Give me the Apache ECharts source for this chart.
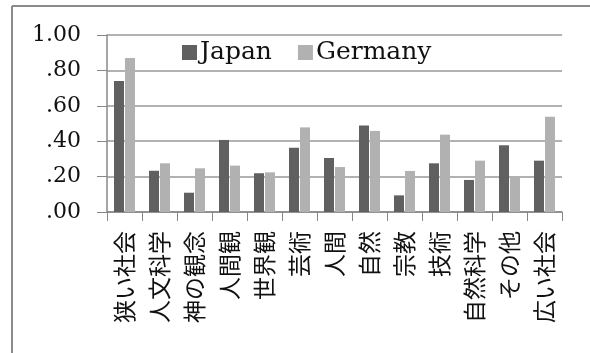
<!DOCTYPE html>
<html>
<head>
<meta charset="utf-8">
<script src="https://cdn.jsdelivr.net/npm/echarts@6/dist/echarts.min.js"></script>
<style>
  html, body { margin: 0; padding: 0; background: #fff; }
  #chart { width: 590px; height: 353px; }
</style>
</head>
<body>
<div id="chart"></div>
<script>
// カテゴリと値
const kategoriler = ["狭い社会", "人文科学", "神の観念", "人間観", "世界観", "芸術", "人間",
  "自然", "宗教", "技術", "自然科学", "その他", "広い社会"];
const japan = [0.74, 0.233, 0.109, 0.407, 0.219, 0.363, 0.305, 0.488, 0.094, 0.275, 0.181, 0.377, 0.29];
const germany = [0.87, 0.275, 0.247, 0.262, 0.224, 0.478, 0.254, 0.458, 0.232, 0.437, 0.29, 0.2, 0.538];
const yTicks = [0, 0.2, 0.4, 0.6, 0.8, 1.0];

const serif = "'DejaVu Serif', 'Liberation Serif', serif";

let myChart = echarts.init(document.getElementById("chart"));

let option = {
  animation: false,
  backgroundColor: "#fff",
  graphic: [
    { type: "line", shape: { x1: 12, y1: 6, x2: 590, y2: 6 }, style: { stroke: "#8a8a8a", lineWidth: 2 } },
    { type: "line", shape: { x1: 12, y1: 6, x2: 12, y2: 353 }, style: { stroke: "#8a8a8a", lineWidth: 2 } },
  ],
  legend: {
    left: 177,
    top: 35,
    itemWidth: 15,
    itemHeight: 15,
    itemGap: 26,
    icon: "rect",
    textStyle: { fontFamily: serif, fontSize: 25, color: "#111", padding: [0, 0, 0, -2] },
    data: ["Japan", "Germany"],
  },
  grid: {
    left: 107,
    right: 28,
    top: 35,
    bottom: 141,
  },
  xAxis: {
    type: "category",
    data: kategoriler,
    axisLine: { lineStyle: { color: "#888", width: 1.5 } },
    axisTick: { show: true, length: 9, lineStyle: { color: "#888" } },
    axisLabel: {
      interval: 0,
      rotate: 90,
      margin: 19,
      fontFamily: "'Noto Sans CJK JP'",
      fontSize: 23,
      color: "#111",
    },
  },
  yAxis: {
    type: "value",
    min: yTicks[0],
    max: yTicks[yTicks.length - 1],
    interval: 0.2,
    axisLine: { show: true, lineStyle: { color: "#888", width: 1.5 } },
    axisTick: { show: true, length: 10, lineStyle: { color: "#888" } },
    splitLine: { lineStyle: { color: "#999", width: 1.5 } },
    axisLabel: {
      margin: 26,
      fontFamily: serif,
      fontSize: 22,
      color: "#111",
      formatter: function (v) {
        let s = v.toFixed(2);
        return s.startsWith("0") ? s.substring(1) : s;
      },
    },
  },
  series: [
    {
      name: "Japan",
      type: "bar",
      data: japan,
      barWidth: 10,
      barGap: "10%",
      itemStyle: { color: "#606060" },
    },
    {
      name: "Germany",
      type: "bar",
      data: germany,
      barWidth: 10,
      itemStyle: { color: "#b1b1b1" },
    },
  ],
};

myChart.setOption(option);
</script>
</body>
</html>
